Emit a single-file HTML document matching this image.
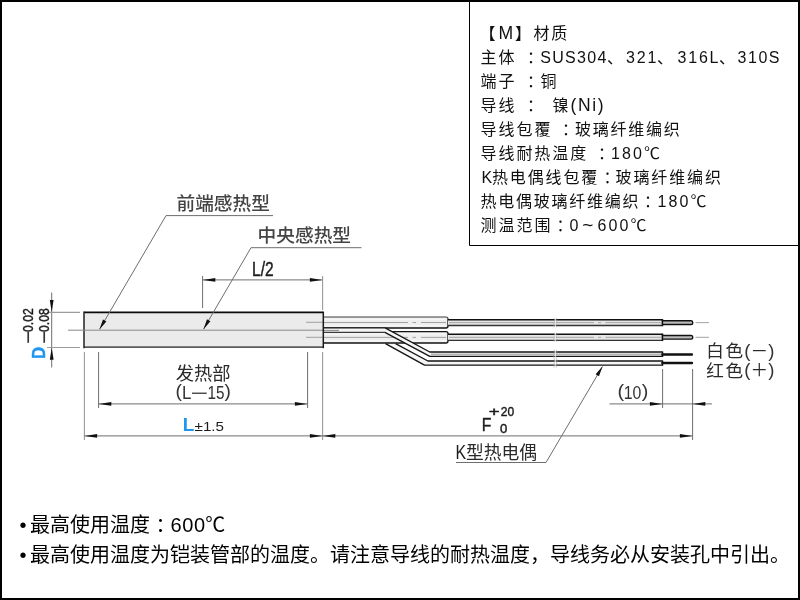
<!DOCTYPE html>
<html lang="zh-CN">
<head>
<meta charset="utf-8">
<title>K型热电偶 加热管</title>
<style>
html,body{margin:0;padding:0;background:#fff;}
body{width:800px;height:600px;overflow:hidden;position:relative;font-family:"Liberation Sans","Noto Sans CJK SC",sans-serif;}
svg{position:absolute;left:0;top:0;display:block;will-change:transform;opacity:0.999;}
.frame{position:absolute;left:0;top:0;width:796px;height:596px;border:2px solid #000;}
text{font-family:"Liberation Sans","Noto Sans CJK SC",sans-serif;}
.thin{stroke:#6e6e6e;stroke-width:1;fill:none;}
.lbl{font-family:"Liberation Sans","Noto Sans CJK SC",sans-serif;font-weight:500;fill:#444;}
.box{font-size:16px;fill:#111;letter-spacing:1.3px;}
.note{font-size:20px;fill:#000;}
.faint{stroke:#9c9c9c;stroke-width:1.1;fill:none;}
.cl{stroke:#888;stroke-width:1;fill:none;}
.cl2{stroke:#999;stroke-width:0.9;fill:none;}
.nar{font-family:"Liberation Sans",sans-serif;fill:#1c1c1c;}
.hvy{stroke:#1c1c1c;stroke-width:0.45;}
.lgt{fill:#333;}
.md{font-family:"Liberation Sans","Noto Sans CJK SC",sans-serif;font-weight:400;fill:#2a2a2a;}
.lt2{font-family:"Liberation Sans","Noto Sans CJK SC",sans-serif;font-weight:300;fill:#222;}
</style>
</head>
<body>
<svg width="800" height="600" viewBox="0 0 800 600">
<!-- SECTION:BODY -->
<rect x="84" y="312.4" width="239" height="35" fill="#ebebeb"/>
<path d="M84 312.4 H323.3" stroke="#0a0a0a" stroke-width="1.7" fill="none"/>
<path d="M84 347.2 H323.3" stroke="#5c5c5c" stroke-width="1.7" fill="none"/>
<path d="M84 311.6 V348.2" stroke="#222" stroke-width="1.5" fill="none"/>
<path d="M68 330.2 H339" class="cl"/>
<path d="M306 322.3 H323 M306 337.3 H323" class="cl2"/>
<!-- SECTION:WIRES -->
<path d="M385.5 343.4 L424.5 365.1 H662.5 V361 H427.9 L395.6 343.4 Z" fill="#f6f6f6"/>
<path d="M395.6 343.6 L427.9 361 H662.5 M385.5 343.6 L424.5 365.1 H662.5" stroke="#151515" stroke-width="1.35" fill="none" stroke-linejoin="round"/>
<path d="M323.3 331.6 H446 Q448 331.6 448 333.6 V341 Q448 343 446 343 H323.3 Z" fill="#eeeeee"/>
<path d="M324 334 H446 M324 340.8 H446" stroke="#f6f6f6" stroke-width="1.6"/>
<path d="M323.3 331.6 H446 Q448 331.6 448 333.6 V341 Q448 343 446 343 H323.3" stroke="#151515" stroke-width="1.35" fill="none" stroke-linejoin="round"/>
<path d="M323.3 317 H446 Q448 317 448 319 V326 Q448 328 446 328 H323.3 Z" fill="#eeeeee"/>
<path d="M324 319.4 H446 M324 325.8 H446" stroke="#f6f6f6" stroke-width="1.6"/>
<path d="M323.3 317 H446 Q448 317 448 319" stroke="#3c3c3c" stroke-width="1.2" fill="none"/>
<path d="M448 319 V326 Q448 328 446 328 H323.3" stroke="#151515" stroke-width="1.35" fill="none" stroke-linejoin="round"/>
<path d="M323 322.5 H408 M412.5 322.5 H416 M421 322.5 H446 M323 337.4 H408 M412.5 337.4 H416 M421 337.4 H446" class="cl2"/>
<path d="M323.3 327.8 H385.1 L429.8 352 H662.5 V356.4 H429.8 L384.4 332.2 H323.3 Z" fill="#f6f6f6"/>
<path d="M323.3 327.9 H385.1 L429.8 352 H662.5" stroke="#151515" stroke-width="1.35" fill="none" stroke-linejoin="round"/>
<path d="M384.4 332.2 L429.8 356.4 H662.5" stroke="#151515" stroke-width="1.35" fill="none" stroke-linejoin="round"/>
<path d="M323.3 332.3 H384.4" stroke="#3a3a3a" stroke-width="1.2" fill="none"/>
<path d="M431 354.2 H661.5" stroke="#b4b4b4" stroke-width="1.4"/>
<rect x="448" y="319.8" width="214.5" height="5.7" fill="#e6e6e6"/>
<path d="M449 322.65 H594 M598 322.65 H601 M605.5 322.65 H661" stroke="#a6a6a6" stroke-width="1"/>
<path d="M448 319.8 H662.5" stroke="#111" stroke-width="1.6" fill="none"/>
<path d="M448 325.5 H662.5" stroke="#333" stroke-width="1.4" fill="none"/>
<path d="M662.5 319.1 V326.2" stroke="#111" stroke-width="1.5" fill="none"/>
<path d="M662.5 320.80 H691.2 Q692.8 320.80 692.8 322.65 Q692.8 324.50 691.2 324.50 H662.5 Z" fill="#bcbcbc" stroke="#111" stroke-width="1.4"/>
<path d="M695.5 322.65 H709" class="cl2"/>
<rect x="448" y="334.2" width="214.5" height="6.2" fill="#e6e6e6"/>
<path d="M449 337.30 H594 M598 337.30 H601 M605.5 337.30 H661" stroke="#a6a6a6" stroke-width="1"/>
<path d="M448 334.2 H662.5" stroke="#111" stroke-width="1.6" fill="none"/>
<path d="M448 340.4 H662.5" stroke="#333" stroke-width="1.4" fill="none"/>
<path d="M662.5 333.5 V341.1" stroke="#111" stroke-width="1.5" fill="none"/>
<path d="M662.5 335.45 H691.2 Q692.8 335.45 692.8 337.30 Q692.8 339.15 691.2 339.15 H662.5 Z" fill="#bcbcbc" stroke="#111" stroke-width="1.4"/>
<path d="M695.5 337.30 H709" class="cl2"/>
<path d="M323.3 330.4 H339" class="cl"/>
<path d="M323.3 311.6 V348.2" stroke="#1a1a1a" stroke-width="1.5" fill="none"/>
<path d="M662.5 351.4 V357 M662.5 360.4 V365.7" stroke="#111" stroke-width="1.5"/>
<path d="M662.5 354.5 H691.8 M662.5 363 H691.8" stroke="#111" stroke-width="2.7" stroke-linecap="round"/>
<path d="M555.3 318.3 V327.1" stroke="#fff" stroke-width="1.1" opacity="0.85"/>
<path d="M554.2 318.1 q1.2 2.3 0 4.6 q-1.2 2.3 0 4.6 M556.5 318.1 q1.2 2.3 0 4.6 q-1.2 2.3 0 4.6" stroke="#a0a0a0" stroke-width="0.5" fill="none"/>
<path d="M555.3 332.9 V341.7" stroke="#fff" stroke-width="1.1" opacity="0.85"/>
<path d="M554.2 332.7 q1.2 2.3 0 4.6 q-1.2 2.3 0 4.6 M556.5 332.7 q1.2 2.3 0 4.6 q-1.2 2.3 0 4.6" stroke="#a0a0a0" stroke-width="0.5" fill="none"/>
<path d="M555.3 349.8 V358.6" stroke="#fff" stroke-width="1.1" opacity="0.85"/>
<path d="M554.2 349.6 q1.2 2.3 0 4.6 q-1.2 2.3 0 4.6 M556.5 349.6 q1.2 2.3 0 4.6 q-1.2 2.3 0 4.6" stroke="#a0a0a0" stroke-width="0.5" fill="none"/>
<path d="M555.3 358.7 V367.5" stroke="#fff" stroke-width="1.1" opacity="0.85"/>
<path d="M554.2 358.5 q1.2 2.3 0 4.6 q-1.2 2.3 0 4.6 M556.5 358.5 q1.2 2.3 0 4.6 q-1.2 2.3 0 4.6" stroke="#a0a0a0" stroke-width="0.5" fill="none"/>
<!-- SECTION:DIMS -->
<path d="M51.7 292.5 V367.5" class="thin"/>
<path d="M47 312.4 H80 M47 347.5 H80" class="faint"/>
<path d="M51.70 312.00 L49.80 300.00 L53.60 300.00 Z" fill="#111"/>
<path d="M51.70 347.80 L53.60 359.80 L49.80 359.80 Z" fill="#111"/>
<path d="M202.6 276 V308 M202.6 279.9 H322.6" class="thin"/>
<path d="M322.6 276 V310" class="faint"/>
<path d="M202.80 279.90 L215.30 278.00 L215.30 281.80 Z" fill="#111"/>
<path d="M322.40 279.90 L309.90 281.80 L309.90 278.00 Z" fill="#111"/>
<path d="M98.6 352 V408 M307.6 352 V408" class="thin"/>
<path d="M84.4 352 V440 M322.6 352 V440" class="faint"/>
<path d="M98.6 403.9 H307.6" class="thin"/>
<path d="M98.80 403.90 L111.30 402.00 L111.30 405.80 Z" fill="#111"/>
<path d="M307.40 403.90 L294.90 405.80 L294.90 402.00 Z" fill="#111"/>
<path d="M84.4 435.9 H692.6" class="thin"/>
<path d="M84.60 435.90 L97.10 434.00 L97.10 437.80 Z" fill="#111"/>
<path d="M322.40 435.90 L309.90 437.80 L309.90 434.00 Z" fill="#111"/>
<path d="M322.80 435.90 L335.30 434.00 L335.30 437.80 Z" fill="#111"/>
<path d="M692.40 435.90 L679.90 437.80 L679.90 434.00 Z" fill="#111"/>
<path d="M662.6 369 V408 M692.6 369 V440 M609.5 403.9 H712" class="thin"/>
<path d="M662.40 403.90 L649.90 405.80 L649.90 402.00 Z" fill="#111"/>
<path d="M692.80 403.90 L705.30 402.00 L705.30 405.80 Z" fill="#111"/>
<path d="M273 215.6 H166 L99.6 329.3" class="thin"/>
<path d="M99.40 329.60 L103.01 319.55 L106.38 321.52 Z" fill="#111"/>
<path d="M361.5 247.7 H251 L203.6 329" class="thin"/>
<path d="M203.40 329.40 L207.00 319.35 L210.37 321.31 Z" fill="#111"/>
<path d="M456 462.5 H546 L602.4 366.6" class="thin"/>
<path d="M602.60 366.20 L598.96 376.24 L595.60 374.26 Z" fill="#111"/>
<!-- SECTION:LABELS -->
<text class="lbl" x="176.5" y="209.8" font-size="18.7">前端感热型</text>
<text class="lbl" x="257.6" y="242.3" font-size="18.7">中央感热型</text>
<text class="nar hvy" x="252" y="275.6" font-size="19.6" textLength="21.6" lengthAdjust="spacingAndGlyphs">L/2</text>
<text class="md" x="175.8" y="380" font-size="18.3">发热部</text>
<text class="nar lgt" x="175.6" y="397.3" font-size="18" textLength="6.4" lengthAdjust="spacingAndGlyphs">(</text>
<text class="nar lgt" x="182" y="399" font-size="18" textLength="9.4" lengthAdjust="spacingAndGlyphs">L</text>
<text class="nar lgt" x="190.6" y="399" font-size="18" textLength="17.6" lengthAdjust="spacingAndGlyphs">−</text>
<text class="nar lgt" x="207.6" y="399" font-size="18" textLength="17" lengthAdjust="spacingAndGlyphs">15</text>
<text class="nar lgt" x="224.4" y="397.3" font-size="18" textLength="6.4" lengthAdjust="spacingAndGlyphs">)</text>
<text x="182.7" y="430.8" font-size="18.9" font-weight="bold" fill="#1e96f0" style="font-family:'Liberation Sans',sans-serif">L</text>
<text class="nar" x="194.6" y="430.8" font-size="12.8" textLength="29.4" lengthAdjust="spacingAndGlyphs">±1.5</text>
<text class="nar hvy" x="481.8" y="431.2" font-size="19.2" textLength="9.6" lengthAdjust="spacingAndGlyphs">F</text>
<text class="nar hvy" x="488.8" y="416" font-size="13.3" textLength="10.8" lengthAdjust="spacingAndGlyphs">+</text>
<text class="nar hvy" x="500.8" y="416" font-size="13.3" textLength="13.4" lengthAdjust="spacingAndGlyphs">20</text>
<text class="nar hvy" x="500.1" y="432.7" font-size="13.3" textLength="7.3" lengthAdjust="spacingAndGlyphs">0</text>
<text class="nar lgt" x="617.5" y="397.2" font-size="18.3" textLength="6.6" lengthAdjust="spacingAndGlyphs">(</text>
<text class="nar lgt" x="623.8" y="398.7" font-size="18.3" textLength="17.6" lengthAdjust="spacingAndGlyphs">10</text>
<text class="nar lgt" x="641.8" y="397.2" font-size="18.3" textLength="6.6" lengthAdjust="spacingAndGlyphs">)</text>
<text class="nar" x="455.6" y="458.6" font-size="19.5" textLength="10.6" lengthAdjust="spacingAndGlyphs">K</text>
<text class="md" x="466" y="458.6" font-size="17.8">型热电偶</text>
<text class="md" x="706.2" y="357.3" font-size="17.6" style="letter-spacing:1.6px">白色</text>
<text class="nar lgt" x="744.2" y="356.7" font-size="19" textLength="6.2" lengthAdjust="spacingAndGlyphs">(</text>
<text class="md" x="750.6" y="356.90000000000003" font-size="17.6">－</text>
<text class="nar lgt" x="768.2" y="356.7" font-size="19" textLength="6.2" lengthAdjust="spacingAndGlyphs">)</text>
<text class="md" x="706.2" y="376.6" font-size="17.6" style="letter-spacing:1.6px">红色</text>
<text class="nar lgt" x="744.2" y="376.0" font-size="19" textLength="6.2" lengthAdjust="spacingAndGlyphs">(</text>
<text class="md" x="750.6" y="376.20000000000005" font-size="17.6">＋</text>
<text class="nar lgt" x="768.2" y="376.0" font-size="19" textLength="6.2" lengthAdjust="spacingAndGlyphs">)</text>
<g transform="translate(32.8,0) rotate(-90)"><text class="nar hvy" x="-343.6" y="0" font-size="14.8" textLength="12.2" lengthAdjust="spacingAndGlyphs">−</text><text class="nar hvy" x="-331.9" y="0" font-size="14.8" textLength="23.6" lengthAdjust="spacingAndGlyphs">0.02</text></g>
<g transform="translate(48.5,0) rotate(-90)"><text class="nar hvy" x="-343.6" y="0" font-size="14.8" textLength="12.2" lengthAdjust="spacingAndGlyphs">−</text><text class="nar hvy" x="-331.9" y="0" font-size="14.8" textLength="23.6" lengthAdjust="spacingAndGlyphs">0.08</text></g>
<text transform="translate(45.3,359) rotate(-90)" font-size="19.2" font-weight="bold" fill="#1e96f0" stroke="#1e96f0" stroke-width="0.4" textLength="12.2" lengthAdjust="spacingAndGlyphs" style="font-family:'Liberation Sans',sans-serif">D</text>
<!-- SECTION:BOX -->
<path d="M469.5 0 V245.5 H800" stroke="#000" stroke-width="1" fill="none"/>
<g class="box">
<text x="479.5" y="39" style="letter-spacing:0px">【</text>
<text x="498.6" y="39" style="letter-spacing:0px" font-size="17.6">M</text>
<text x="515" y="39" style="letter-spacing:0px">】</text>
<text x="533.5" y="39" style="letter-spacing:1.7px">材质</text>
<text x="480.5" y="63" style="letter-spacing:2.0px">主体</text>
<text x="527.1" y="63" style="letter-spacing:0">：</text>
<text x="540.3" y="63" style="letter-spacing:0" textLength="66" lengthAdjust="spacing">SUS304</text>
<text x="607" y="63" style="letter-spacing:0px">、</text>
<text x="626" y="63" style="letter-spacing:0" textLength="30.5" lengthAdjust="spacing">321</text>
<text x="657" y="63" style="letter-spacing:0px">、</text>
<text x="677.5" y="63" style="letter-spacing:0" textLength="41" lengthAdjust="spacing">316L</text>
<text x="719" y="63" style="letter-spacing:0px">、</text>
<text x="737.5" y="63" style="letter-spacing:0" textLength="42" lengthAdjust="spacing">310S</text>
<text x="480.5" y="87" style="letter-spacing:2.0px">端子</text>
<text x="527.1" y="87" style="letter-spacing:0">：</text>
<text x="540.5" y="87" style="letter-spacing:0px">铜</text>
<text x="480.5" y="111" style="letter-spacing:2.0px">导线</text>
<text x="527.1" y="111" style="letter-spacing:0">：</text>
<text x="552.5" y="111" style="letter-spacing:0px">镍</text>
<text x="570.6" y="111" style="letter-spacing:0" textLength="33" lengthAdjust="spacing" font-size="17.5">(Ni)</text>
<text x="480.5" y="134.5" style="letter-spacing:2.0px">导线包覆</text>
<text x="562.1" y="134.5" style="letter-spacing:0">：</text>
<text x="575" y="134.5" style="letter-spacing:1.75px">玻璃纤维编织</text>
<text x="480.5" y="158.5" style="letter-spacing:1.95px">导线耐热温度</text>
<text x="598.1" y="158.5" style="letter-spacing:0">：</text>
<text x="611" y="158.5" style="letter-spacing:0" textLength="49" lengthAdjust="spacing">180℃</text>
<text x="481.5" y="182.5" style="letter-spacing:0px">K</text>
<text x="492" y="182.5" style="letter-spacing:1.85px">热电偶线包覆</text>
<text x="603.6" y="182.5" style="letter-spacing:0">：</text>
<text x="615.5" y="182.5" style="letter-spacing:1.9px">玻璃纤维编织</text>
<text x="480.5" y="206.5" style="letter-spacing:1.75px">热电偶玻璃纤维编织</text>
<text x="644.1" y="206.5" style="letter-spacing:0">：</text>
<text x="657.5" y="206.5" style="letter-spacing:0" textLength="49" lengthAdjust="spacing">180℃</text>
<text x="480.5" y="230.5" style="letter-spacing:2.0px">测温范围</text>
<text x="556.6" y="230.5" style="letter-spacing:0">：</text>
<text x="569.5" y="230.5" style="letter-spacing:0px">0</text>
<text x="582.3" y="230.5" style="letter-spacing:0px" font-size="19">~</text>
<text x="597.5" y="230.5" style="letter-spacing:0" textLength="49" lengthAdjust="spacing">600℃</text>
</g>
<!-- SECTION:NOTES -->
<g class="note">
<text x="19.6" y="531.5">•</text><text x="30" y="531.5">最高使用温度</text><text x="155.5" y="531.5">：</text><text x="170.6" y="531.5" textLength="34.5" lengthAdjust="spacing">600</text><text x="205.2" y="531.5">℃</text>
<text x="19.6" y="561.5">•</text><text x="30" y="561.5">最高使用温度为铠装管部的温度。请注意导线的耐热温度，导线务必从安装孔中引出。</text>
</g>
</svg>
<div class="frame"></div>
</body>
</html>
